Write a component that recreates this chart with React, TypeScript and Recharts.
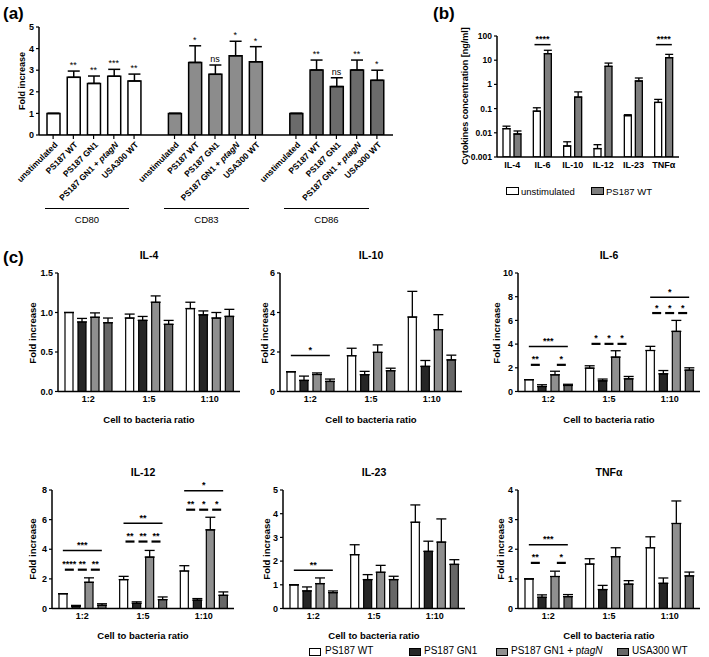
import React from "react";
import { BarChart, Bar, XAxis, YAxis, ErrorBar, Cell, ReferenceLine, ReferenceDot } from "recharts";

const FONT = "'Liberation Sans', Arial, Helvetica, sans-serif";

// ---- (a) surface markers ----
const markers = ["CD80", "CD83", "CD86"];
const stimuli = ["unstimulated", "PS187 WT", "PS187 GN1", "PS187 GN1 + ptagN", "USA300 WT"];
const cd80Mean = [1, 2.67, 2.39, 2.72, 2.5];
const cd80Sem = [0, 0.29, 0.34, 0.32, 0.32];
const cd80Sig = ["", "**", "**", "***", "**"];
const cd83Mean = [1, 3.36, 2.81, 3.67, 3.39];
const cd83Sem = [0, 0.77, 0.43, 0.67, 0.7];
const cd83Sig = ["", "*", "ns", "*", "*"];
const cd86Mean = [1, 3.01, 2.24, 3.01, 2.53];
const cd86Sem = [0, 0.46, 0.41, 0.46, 0.47];
const cd86Sig = ["", "**", "ns", "**", "*"];
const markerFill = ["#ffffff", "#8c8c8c", "#6b6b6b"];
const foldTicksA = [0, 1, 2, 3, 4, 5];

// ---- (b) cytokine concentrations ----
const cytokines = ["IL-4", "IL-6", "IL-10", "IL-12", "IL-23", "TNFα"];
const unstimConc = [0.0148, 0.078, 0.00285, 0.00223, 0.051, 0.18];
const unstimSem = [0.004, 0.03, 0.0014, 0.001, 0.005, 0.06];
const wtConc = [0.0089, 18.7, 0.3, 5.6, 1.38, 12.7];
const wtSem = [0.003, 7, 0.19, 2.0, 0.46, 4.7];
const concSig: [string, number, string][] = [["IL-6", 44, "****"], ["TNFα", 44, "****"]];
const concTicks = [0.001, 0.01, 0.1, 1, 10, 100];

// ---- (c) fold increase by ratio ----
const ratios = ["1:2", "1:5", "1:10"];
const strains = ["PS187 WT", "PS187 GN1", "PS187 GN1 + ptagN", "USA300 WT"];
const strainFill = ["#ffffff", "#262626", "#8f8f8f", "#676767"];

// rows: ratio, columns: strain
const il4Mean = [[1.0, 0.88, 0.94, 0.87], [0.93, 0.9, 1.13, 0.85], [1.05, 0.97, 0.93, 0.95]];
const il4Sem = [[0, 0.045, 0.055, 0.06], [0.05, 0.05, 0.08, 0.05], [0.08, 0.05, 0.07, 0.09]];
const il10Mean = [[1.0, 0.56, 0.86, 0.51], [1.81, 0.85, 1.98, 1.05], [3.77, 1.27, 3.13, 1.6]];
const il10Sem = [[0, 0.22, 0.08, 0.12], [0.38, 0.17, 0.38, 0.13], [1.3, 0.3, 0.76, 0.24]];
const il6Mean = [[1.0, 0.42, 1.41, 0.51], [1.97, 0.9, 2.9, 1.07], [3.46, 1.49, 5.07, 1.8]];
const il6Sem = [[0, 0.15, 0.3, 0.1], [0.2, 0.15, 0.54, 0.2], [0.35, 0.28, 0.93, 0.2]];
const il12Mean = [[1.0, 0.15, 1.77, 0.22], [1.95, 0.35, 3.47, 0.6], [2.53, 0.56, 5.31, 0.89]];
const il12Sem = [[0, 0.06, 0.3, 0.1], [0.22, 0.1, 0.45, 0.18], [0.36, 0.11, 0.85, 0.23]];
const il23Mean = [[1.0, 0.74, 1.05, 0.67], [2.27, 1.22, 1.53, 1.22], [3.64, 2.41, 2.8, 1.86]];
const il23Sem = [[0, 0.17, 0.24, 0.07], [0.42, 0.21, 0.29, 0.14], [0.73, 0.43, 0.98, 0.2]];
const tnfMean = [[1.0, 0.38, 1.08, 0.4], [1.5, 0.64, 1.75, 0.82], [2.05, 0.85, 2.87, 1.1]];
const tnfSem = [[0, 0.08, 0.18, 0.07], [0.18, 0.14, 0.3, 0.12], [0.37, 0.18, 0.76, 0.13]];

// [ratio index, from strain, to strain, y, label]
type Sig = [number, number, number, number, string];
const il10Sig: Sig[] = [[0, 0, 3, 1.82, "*"]];
const il6Sig: Sig[] = [
  [0, 0, 3, 3.8, "***"], [0, 0, 1, 2.25, "**"], [0, 2, 3, 2.25, "*"],
  [1, 0, 1, 4.02, "*"], [1, 1, 2, 4.02, "*"], [1, 2, 3, 4.02, "*"],
  [2, 0, 3, 7.95, "*"], [2, 0, 1, 6.62, "*"], [2, 1, 2, 6.62, "*"], [2, 2, 3, 6.62, "*"],
];
const il12Sig: Sig[] = [
  [0, 0, 3, 3.92, "***"], [0, 0, 1, 2.62, "****"], [0, 1, 2, 2.62, "**"], [0, 2, 3, 2.62, "**"],
  [1, 0, 3, 5.76, "**"], [1, 0, 1, 4.52, "**"], [1, 1, 2, 4.52, "**"], [1, 2, 3, 4.52, "**"],
  [2, 0, 3, 7.95, "*"], [2, 0, 1, 6.67, "**"], [2, 1, 2, 6.67, "*"], [2, 2, 3, 6.67, "*"],
];
const il23Sig: Sig[] = [[0, 0, 3, 1.61, "**"]];
const tnfSig: Sig[] = [[0, 0, 3, 2.15, "***"], [0, 0, 1, 1.54, "**"], [0, 2, 3, 1.54, "*"]];

const AXIS = { stroke: "#000", strokeWidth: 1.5 };
const TICKLINE = { stroke: "#000", strokeWidth: 1.2 };
const boldTick = { fontSize: 9, fontWeight: "bold", fill: "#000", fontFamily: FONT };

const abs = (left: number, top: number, extra: React.CSSProperties = {}): React.CSSProperties => ({
  position: "absolute", left, top, fontFamily: FONT, color: "#000", whiteSpace: "nowrap", ...extra,
});
const centered = (x: number, y: number, extra: React.CSSProperties = {}) =>
  abs(x, y, { transform: "translate(-50%,-50%)", lineHeight: 1, ...extra });
const rotated = (x: number, y: number, extra: React.CSSProperties = {}) =>
  abs(x, y, { transform: "translate(-50%,-50%) rotate(-90deg)", lineHeight: 1, ...extra });

// significance bar drawn relative to the category centre the reference line sits on
const sigShape = (dx1: number, dx2: number, width: number, label: string) => (lp: any) => (
  <g>
    <line x1={lp.x1 + dx1} x2={lp.x1 + dx2} y1={lp.y1} y2={lp.y1} stroke="#000" strokeWidth={width} />
    <text x={lp.x1 + (dx1 + dx2) / 2} y={lp.y1 - 2.5} textAnchor="middle" fontSize={9} fontWeight="bold"
      fontFamily={FONT} fill="#000">{label}</text>
  </g>
);

// ---------- panel (a) ----------
const markerMeans = [cd80Mean, cd83Mean, cd86Mean];
const markerSems = [cd80Sem, cd83Sem, cd86Sem];
const markerSigs = [cd80Sig, cd83Sig, cd86Sig];
const rowsA: any[] = [];
markers.forEach((m, mi) => {
  if (mi > 0) rowsA.push({ key: `gap${mi}`, label: "", mean: null, err: [0, 0], sig: "", marker: -1 });
  stimuli.forEach((s, si) =>
    rowsA.push({
      key: `${m}|${s}`, label: s, mean: markerMeans[mi][si], err: [0, markerSems[mi][si]],
      sig: markerSigs[mi][si], marker: mi,
    })
  );
});

function StimulusTick(props: any) {
  const { x, y, payload } = props;
  const row = rowsA.find((r) => r.key === payload.value);
  if (!row || !row.label) return null;
  const parts = row.label.split("ptagN");
  return (
    <g transform={`translate(${x},${y})`}>
      <line x1={0} y1={-4} x2={0} y2={0} stroke="#000" strokeWidth={1.2} />
      <text transform="rotate(-45)" x={-1} y={8} textAnchor="end" fontSize={8.5} fontWeight="bold" fontFamily={FONT} fill="#000">
        {parts[0]}
        {parts.length > 1 && <tspan fontStyle="italic">ptagN</tspan>}
      </text>
    </g>
  );
}

function PanelA() {
  const axisX = 39, plotTop = 27, plotH = 108, plotW = 354, yW = 30, mTop = 12, xH = 80;
  const groupLines = [[45, 129], [164, 249], [284, 369]];
  return (
    <>
      <div style={abs(3, 5, { fontSize: 17, fontWeight: "bold", lineHeight: 1 })}>(a)</div>
      <div style={rotated(22, 81, { fontSize: 9, fontWeight: "bold" })}>Fold increase</div>
      <div style={abs(axisX - yW, plotTop - mTop)}>
        <BarChart width={yW + plotW + 4} height={mTop + plotH + xH} data={rowsA}
          margin={{ top: mTop, right: 4, bottom: 0, left: 0 }} barSize={13}>
          <XAxis dataKey="key" interval={0} tick={<StimulusTick />} tickLine={false} tickSize={4}
            tickMargin={0} height={xH} axisLine={AXIS} padding={{ left: 4, right: 6 }} />
          <YAxis domain={[0, 5]} ticks={foldTicksA} width={yW} tick={boldTick} axisLine={AXIS}
            tickLine={TICKLINE} tickSize={3} tickMargin={2} allowDataOverflow />
          <Bar dataKey="mean" stroke="#000" strokeWidth={1.5} isAnimationActive={false}>
            {rowsA.map((r) => (
              <Cell key={r.key} fill={r.marker >= 0 ? markerFill[r.marker] : "none"} />
            ))}
            <ErrorBar dataKey="err" width={6} stroke="#000" strokeWidth={1.5} />
          </Bar>
          {rowsA.filter((r) => r.sig).map((r) => (
            <ReferenceDot key={`s${r.key}`} x={r.key} y={r.mean + r.err[1]} r={0} fill="none" stroke="none"
              ifOverflow="visible"
              label={{ value: r.sig, position: "top", offset: 3, fontSize: 9, fill: "#000", fontFamily: FONT }} />
          ))}
        </BarChart>
      </div>
      {markers.map((m, i) => (
        <React.Fragment key={m}>
          <div style={abs(groupLines[i][0], 207.5, { width: groupLines[i][1] - groupLines[i][0], height: 1.5, background: "#000" })} />
          <div style={centered((groupLines[i][0] + groupLines[i][1]) / 2, 220, { fontSize: 9.5 })}>{m}</div>
        </React.Fragment>
      ))}
    </>
  );
}

// ---------- panel (b) ----------
const rowsB = cytokines.map((c, i) => ({
  cytokine: c, unstim: unstimConc[i], unstimErr: [0, unstimSem[i]], wt: wtConc[i], wtErr: [0, wtSem[i]],
}));

function PanelB() {
  const axisX = 497, plotTop = 35.7, plotH = 121, plotW = 182, yW = 32, mTop = 12, xH = 20;
  return (
    <>
      <div style={abs(433, 5, { fontSize: 17, fontWeight: "bold", lineHeight: 1 })}>(b)</div>
      <div style={rotated(465, 96, { fontSize: 9, fontWeight: "bold" })}>Cytokines concentration [ng/ml]</div>
      <div style={abs(axisX - yW, plotTop - mTop)}>
        <BarChart width={yW + plotW + 4} height={mTop + plotH + xH} data={rowsB}
          margin={{ top: mTop, right: 4, bottom: 0, left: 0 }} barSize={7} barGap={4}>
          <XAxis dataKey="cytokine" interval={0} tick={boldTick} tickLine={false} tickSize={3}
            tickMargin={2} height={xH} axisLine={AXIS} />
          <YAxis scale="log" domain={[0.001, 100]} ticks={concTicks} width={yW} allowDataOverflow
            tick={{ ...boldTick, fontSize: 8.5 }} tickFormatter={(v: number) => String(v)} axisLine={AXIS}
            tickLine={TICKLINE} tickSize={3} tickMargin={2} />
          <Bar dataKey="unstim" fill="#ffffff" stroke="#000" strokeWidth={1.3} isAnimationActive={false}>
            <ErrorBar dataKey="unstimErr" width={4} stroke="#000" strokeWidth={1.3} />
          </Bar>
          <Bar dataKey="wt" fill="#7d7d7d" stroke="#000" strokeWidth={1.3} isAnimationActive={false}>
            <ErrorBar dataKey="wtErr" width={4} stroke="#000" strokeWidth={1.3} />
          </Bar>
          {concSig.map(([c, y, label]) => (
            <ReferenceLine key={c} ifOverflow="visible" segment={[{ x: c, y }, { x: c, y }]}
              shape={sigShape(-8, 8, 1.5, label)} />
          ))}
        </BarChart>
      </div>
      <div style={abs(506, 187, { width: 11, height: 6, border: "1px solid #000", background: "#fff" })} />
      <div style={abs(521, 185.5, { fontSize: 9.5, lineHeight: "11px" })}>unstimulated</div>
      <div style={abs(591, 187, { width: 11, height: 6, border: "1px solid #000", background: "#7d7d7d" })} />
      <div style={abs(606, 185.5, { fontSize: 9.5, lineHeight: "11px" })}>PS187 WT</div>
    </>
  );
}

// ---------- panel (c) ----------
const PLOT_W = 182, PLOT_H = 118.5, Y_W = 28, M_TOP = 16, M_RIGHT = 4, X_H = 20;
const BAR = 8, GAP = 5;

function RatioPanel(p: {
  name: string; axisX: number; plotTop: number; labelX: number; mean: number[][]; sem: number[][];
  sig: Sig[]; yMax: number; ticks: number[]; fmt?: (v: number) => string;
}) {
  const data = ratios.map((ratio, g) => {
    const row: any = { ratio };
    strains.forEach((_, i) => {
      row[`m${i}`] = p.mean[g][i];
      row[`e${i}`] = [0, p.sem[g][i]];
    });
    return row;
  });
  // pixel offset of a bar centre from its group centre
  const barDx = (i: number) => (i - (strains.length - 1) / 2) * (BAR + GAP);
  const cx = p.axisX + PLOT_W / 2;
  return (
    <>
      <div style={centered(cx, p.plotTop - 18, { fontSize: 10.5, fontWeight: "bold" })}>{p.name}</div>
      <div style={rotated(p.labelX, p.plotTop + PLOT_H / 2, { fontSize: 9.5, fontWeight: "bold" })}>Fold increase</div>
      <div style={centered(cx, p.plotTop + PLOT_H + 28, { fontSize: 9.5, fontWeight: "bold" })}>Cell to bacteria ratio</div>
      <div style={abs(p.axisX - Y_W, p.plotTop - M_TOP)}>
        <BarChart width={Y_W + PLOT_W + M_RIGHT} height={M_TOP + PLOT_H + X_H} data={data}
          margin={{ top: M_TOP, right: M_RIGHT, bottom: 0, left: 0 }} barSize={BAR} barGap={GAP}>
          <XAxis dataKey="ratio" interval={0} tick={boldTick} tickLine={false} tickSize={3}
            tickMargin={1} height={X_H} axisLine={AXIS} />
          <YAxis domain={[0, p.yMax]} ticks={p.ticks} tickFormatter={p.fmt} width={Y_W} allowDataOverflow
            tick={boldTick} axisLine={AXIS} tickLine={TICKLINE} tickSize={3} tickMargin={2} />
          {strains.map((s, i) => (
            <Bar key={s} dataKey={`m${i}`} fill={strainFill[i]} stroke="#000" strokeWidth={1.2} isAnimationActive={false}>
              <ErrorBar dataKey={`e${i}`} width={5} stroke="#000" strokeWidth={1.3} />
            </Bar>
          ))}
          {p.sig.map(([g, a, b, y, label], k) => {
            const short = b - a === 1;
            const mid = (barDx(a) + barDx(b)) / 2;
            const dx1 = short ? mid - 4.5 : barDx(a);
            const dx2 = short ? mid + 4.5 : barDx(b);
            return (
              <ReferenceLine key={k} ifOverflow="visible" segment={[{ x: ratios[g], y }, { x: ratios[g], y }]}
                shape={sigShape(dx1, dx2, short ? 2.2 : 1.5, label)} />
            );
          })}
        </BarChart>
      </div>
    </>
  );
}

function LegendC() {
  const items = [[309, 325], [409, 424], [496, 511], [617, 632]];
  return (
    <>
      {strains.map((s, i) => (
        <React.Fragment key={s}>
          <div style={abs(items[i][0], 647.5, { width: 10, height: 6, border: "1px solid #000", background: strainFill[i] })} />
          <div style={abs(items[i][1], 645, { fontSize: 10, lineHeight: "12px" })}>
            {s.includes("ptagN") ? <>PS187 GN1 + p<i>tagN</i></> : s}
          </div>
        </React.Fragment>
      ))}
    </>
  );
}

export default function App() {
  return (
    <div style={{ position: "absolute", left: 0, top: 0, width: 709, height: 657, background: "#fff", overflow: "hidden", fontFamily: FONT }}>
      <PanelA />
      <PanelB />
      <div style={abs(3, 249, { fontSize: 17, fontWeight: "bold", lineHeight: 1 })}>(c)</div>
      <RatioPanel name="IL-4" axisX={58} plotTop={273.3} labelX={33} mean={il4Mean} sem={il4Sem} sig={[]}
        yMax={1.5} ticks={[0, 0.5, 1, 1.5]} fmt={(v) => v.toFixed(1)} />
      <RatioPanel name="IL-10" axisX={280} plotTop={273.3} labelX={265} mean={il10Mean} sem={il10Sem} sig={il10Sig}
        yMax={6} ticks={[0, 2, 4, 6]} />
      <RatioPanel name="IL-6" axisX={518} plotTop={273.3} labelX={497} mean={il6Mean} sem={il6Sem} sig={il6Sig}
        yMax={10} ticks={[0, 2, 4, 6, 8, 10]} />
      <RatioPanel name="IL-12" axisX={52} plotTop={489.5} labelX={33} mean={il12Mean} sem={il12Sem} sig={il12Sig}
        yMax={8} ticks={[0, 2, 4, 6, 8]} />
      <RatioPanel name="IL-23" axisX={283} plotTop={489.5} labelX={267} mean={il23Mean} sem={il23Sem} sig={il23Sig}
        yMax={5} ticks={[0, 1, 2, 3, 4, 5]} />
      <RatioPanel name="TNFα" axisX={518} plotTop={489.5} labelX={501} mean={tnfMean} sem={tnfSem} sig={tnfSig}
        yMax={4} ticks={[0, 1, 2, 3, 4]} />
      <LegendC />
    </div>
  );
}
